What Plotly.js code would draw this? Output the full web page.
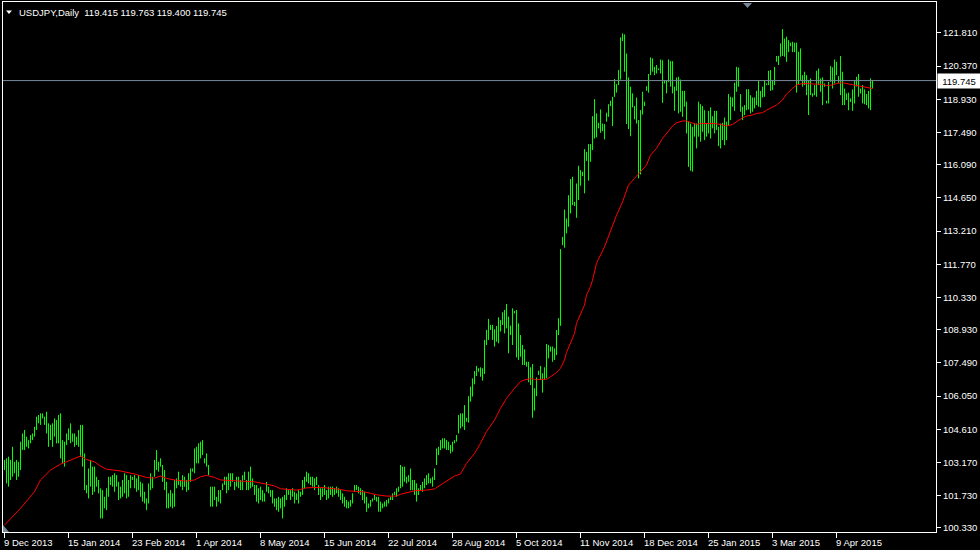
<!DOCTYPE html>
<html>
<head>
<meta charset="utf-8">
<script src="https://cdn.plot.ly/plotly-3.0.1.min.js"></script>
<style>
html,body{margin:0;padding:0;background:#000;}
#chart{width:980px;height:550px;}
</style>
</head>
<body>
<div id="chart"></div>
<script>
// ---- DATA (USDJPY, Daily) ----
const symbolTitle = "USDJPY,Daily";
const high = [
103.28,103.35,103.42,103.28,103.85,103.20,103.28,103.20,104.07,104.43,
104.58,104.29,104.14,104.36,104.43,104.72,105.16,105.23,105.30,105.30,
105.16,105.37,104.87,104.80,104.87,105.08,105.01,105.23,105.30,104.14,
104.07,104.43,104.65,104.87,104.43,104.43,104.29,104.58,104.80,104.80,
103.56,102.19,102.91,103.28,102.99,102.99,102.55,102.41,102.05,101.97,
101.68,102.05,102.55,102.55,102.62,102.70,102.62,102.33,102.12,102.41,
102.70,102.62,102.41,102.62,102.55,102.62,102.48,102.62,102.33,102.26,
101.90,101.61,102.26,102.70,102.55,103.28,103.71,103.20,103.35,103.06,
102.84,102.33,101.83,101.97,101.83,102.41,102.48,102.77,102.41,102.62,
102.55,102.41,102.70,102.91,102.91,103.78,103.85,104.00,104.07,104.14,
103.35,103.56,103.06,102.12,102.12,102.12,101.68,101.97,101.97,102.26,
102.55,102.55,102.70,102.70,102.70,102.33,102.55,102.55,102.41,102.62,
102.77,102.41,102.77,102.99,102.48,102.19,102.19,102.05,102.12,101.97,
101.83,102.33,102.12,101.97,101.97,101.61,101.61,101.68,101.61,101.68,
101.76,102.05,101.97,101.97,102.05,101.90,101.83,101.97,101.90,102.41,
102.55,102.77,102.70,102.55,102.55,102.48,102.55,102.19,102.05,102.05,
102.19,101.97,102.12,
102.12,102.12,102.05,102.12,102.05,101.97,101.83,101.68,101.54,101.47,
101.54,101.83,102.19,102.19,102.12,102.05,101.97,101.90,101.68,101.39,
101.54,101.61,101.76,101.68,101.68,101.47,101.39,101.47,101.54,101.61,
101.68,101.83,101.90,102.05,102.12,103.06,102.99,102.99,102.55,102.62,
102.91,102.41,102.41,102.26,102.05,102.19,102.33,102.48,102.62,102.70,
102.48,102.55,102.91,103.78,103.85,104.14,104.22,104.22,104.14,104.07,
103.93,104.07,104.14,104.36,105.23,105.30,105.30,105.66,105.11,106.05,
106.46,106.82,107.14,107.36,107.26,107.30,107.26,108.49,108.92,109.40,
109.14,109.14,108.95,109.09,109.47,109.35,109.69,109.79,110.05,109.50,
109.11,109.86,109.74,109.79,109.21,108.70,108.27,108.08,107.54,107.54,
107.30,107.44,106.39,106.86,107.15,107.36,107.04,107.30,108.31,108.27,
108.20,108.20,108.12,108.92,109.43,112.43,112.96,114.15,113.76,114.77,
115.47,115.57,114.48,115.28,116.05,115.86,115.79,116.77,116.65,116.99,
116.99,118.20,118.94,118.32,117.91,118.49,117.88,117.86,118.35,118.72,
118.87,119.04,119.81,119.59,120.20,121.62,121.79,121.75,120.92,119.88,
119.48,119.19,118.64,119.01,118.03,118.46,119.26,118.83,119.50,120.03,
120.75,120.71,120.34,120.42,120.27,120.66,120.63,119.77,119.77,120.66,
120.59,120.59,119.48,119.88,119.91,119.79,119.30,119.30,118.83,117.96,
117.88,117.74,117.88,117.88,118.83,118.72,118.64,118.46,117.88,118.43,
118.58,118.20,118.43,118.43,117.74,117.88,117.91,118.14,117.96,119.16,
119.04,119.01,119.65,120.34,120.31,119.16,118.61,118.68,119.37,119.37,
119.11,119.01,119.01,119.30,119.77,119.29,119.48,119.77,119.62,120.17,
120.20,119.77,120.34,120.81,120.82,121.36,121.98,121.57,121.65,121.50,
121.39,121.43,121.39,121.39,121.00,121.14,119.98,120.13,119.98,119.77,
119.84,119.19,119.55,120.17,120.27,119.84,119.88,119.62,118.87,119.69,
120.37,120.32,120.66,120.56,119.94,120.81,120.13,119.40,119.19,119.22,
118.97,119.36,119.77,119.91,120.03,119.40,119.55,119.36,119.16,119.30,
119.84,119.763];
const low = [
102.84,102.26,102.12,102.41,102.55,102.70,102.41,102.55,102.84,103.71,
103.71,103.85,103.78,104.00,104.14,104.29,104.58,104.87,104.80,105.08,
104.80,104.43,103.85,104.14,103.85,104.29,104.00,104.00,103.35,103.13,
102.99,103.93,104.14,104.00,104.07,103.85,103.93,103.85,103.42,102.99,
101.97,101.83,101.61,102.12,101.76,101.90,102.12,101.83,100.74,100.74,
101.18,101.10,101.68,102.19,102.12,101.90,102.12,101.54,101.61,101.68,
101.83,101.61,101.68,102.05,102.41,102.05,101.90,101.97,101.68,101.47,
101.39,101.10,101.39,101.97,102.05,102.55,102.84,102.77,102.99,102.33,
101.97,101.18,101.18,101.25,101.18,101.25,102.05,102.19,102.12,101.97,
102.12,101.90,101.97,102.33,102.77,102.70,103.13,103.13,103.35,103.49,
103.13,102.99,102.62,101.25,101.25,101.54,101.25,101.47,101.39,101.97,
102.19,101.83,101.97,102.12,102.33,101.97,102.12,102.05,101.97,101.97,
102.41,101.97,101.97,102.05,102.12,101.76,101.47,101.39,101.54,101.47,
101.47,101.90,101.83,101.68,101.39,101.25,101.10,101.03,101.18,100.74,
101.25,101.54,101.76,101.54,101.68,101.39,101.54,101.39,101.68,101.76,
102.05,102.33,102.26,102.19,102.12,101.97,102.19,101.76,101.54,101.68,
101.76,101.54,101.61,
101.76,101.68,101.76,101.83,101.68,101.54,101.39,101.25,101.18,101.18,
101.25,101.39,101.90,101.97,101.83,101.76,101.54,101.39,101.03,101.18,
101.25,101.47,101.54,101.47,101.03,101.03,101.18,101.25,101.25,101.39,
101.54,101.54,101.76,101.68,101.90,102.05,102.12,102.33,102.26,102.33,
101.97,101.97,101.76,101.47,101.76,101.97,101.90,102.05,102.19,102.26,
102.26,102.12,102.41,103.06,103.49,103.71,103.78,103.78,103.71,103.71,
103.56,103.64,104.00,104.07,104.43,104.65,104.72,104.58,104.94,104.90,
105.81,106.03,106.56,106.92,107.11,106.89,106.72,107.01,108.27,108.49,
108.92,108.49,108.20,108.41,108.34,108.85,109.14,108.77,108.99,107.91,
108.70,108.27,109.64,107.73,107.62,107.76,107.40,107.40,107.33,106.65,
106.53,105.11,105.42,106.05,106.97,106.75,106.20,106.75,106.82,107.69,
107.98,107.54,107.62,107.83,108.70,109.10,112.60,112.49,113.11,113.40,
113.98,114.34,114.30,113.79,114.56,115.18,115.60,114.85,116.26,115.40,
116.22,116.73,117.23,117.28,117.67,117.48,117.55,117.19,117.96,118.17,
118.64,117.77,119.04,119.22,119.55,119.79,121.46,120.13,117.86,117.64,
117.33,118.58,118.06,117.88,115.50,115.67,118.27,118.64,119.30,119.22,
119.98,120.13,119.98,120.05,120.20,120.05,118.78,119.62,119.19,119.69,
119.48,119.19,118.43,119.30,118.32,118.39,118.17,118.61,117.45,116.00,
115.83,115.79,117.31,116.80,117.31,117.09,117.52,117.16,117.31,117.45,
117.23,117.67,117.45,117.60,116.90,116.80,117.16,116.94,117.16,117.77,
118.03,118.61,118.43,119.26,119.48,118.39,118.03,118.25,118.46,118.49,
118.32,118.39,118.54,118.68,118.61,118.58,119.01,119.04,119.55,119.55,
119.30,119.33,119.55,120.56,120.42,120.78,120.81,120.78,120.56,120.98,
121.24,120.98,120.98,119.22,119.55,119.77,119.48,119.55,119.11,118.25,
119.11,119.04,119.11,119.04,119.55,119.26,118.68,119.48,118.75,118.75,
119.69,119.40,119.62,119.98,119.65,119.11,118.68,118.68,118.90,118.46,
118.82,118.43,118.75,119.48,119.04,119.19,118.75,118.72,118.68,118.54,
118.46,119.400];
const close = [
103.20,102.40,103.00,102.60,103.10,102.90,102.80,103.10,103.95,104.20,
104.00,104.10,104.05,104.30,104.35,104.60,105.00,105.10,105.20,105.15,
104.95,104.60,104.30,104.70,104.50,104.80,104.20,105.10,103.80,103.90,
104.00,104.30,104.50,104.30,104.20,104.00,104.20,104.50,103.60,103.20,
102.10,102.00,102.60,102.30,102.80,102.20,102.30,101.90,101.00,101.50,
101.30,101.90,102.40,102.30,102.50,102.10,102.30,101.80,101.90,102.30,
102.00,102.40,102.20,102.50,102.45,102.30,102.40,102.10,101.80,101.60,
101.50,101.40,102.10,102.50,102.40,103.10,103.00,103.10,103.10,102.50,
102.20,101.30,101.60,101.40,101.70,102.30,102.30,102.40,102.30,102.20,
102.40,102.20,102.60,102.80,102.85,103.60,103.40,103.80,103.90,103.60,
103.20,103.10,102.70,101.60,101.90,101.60,101.50,101.80,101.90,102.20,
102.30,102.40,102.50,102.60,102.40,102.10,102.40,102.20,102.30,102.50,
102.60,102.10,102.70,102.30,102.20,101.90,101.70,101.80,101.70,101.60,
101.80,102.00,101.90,101.80,101.50,101.40,101.30,101.50,101.30,101.60,
101.70,101.90,101.85,101.70,101.80,101.60,101.70,101.80,101.85,102.30,
102.40,102.50,102.40,102.30,102.40,102.30,102.20,101.90,101.80,101.90,
101.80,101.90,101.90,
101.90,102.00,101.90,102.00,101.80,101.60,101.50,101.40,101.30,101.40,
101.50,101.80,102.10,102.00,101.90,101.80,101.60,101.50,101.20,101.30,
101.50,101.55,101.60,101.50,101.20,101.30,101.30,101.40,101.50,101.60,
101.60,101.80,101.85,102.00,102.05,102.90,102.60,102.50,102.40,102.50,
102.10,102.30,101.90,102.00,102.00,102.10,102.30,102.40,102.50,102.40,
102.40,102.50,102.80,103.70,103.80,104.00,103.90,104.10,103.80,103.90,
103.80,104.00,104.10,104.30,105.10,104.90,105.20,105.00,105.05,105.90,
106.30,106.70,107.00,107.20,107.15,107.10,107.00,108.40,108.70,109.00,
109.00,108.70,108.80,109.00,109.30,109.20,109.50,109.60,109.70,108.80,
108.90,109.70,109.70,108.00,108.50,108.00,107.60,107.60,107.40,106.90,
107.10,106.10,106.20,106.80,107.05,107.00,106.90,107.20,108.00,108.10,
108.05,107.80,108.00,108.80,109.20,112.30,112.80,113.60,113.50,114.60,
114.90,114.40,114.40,115.10,115.70,115.70,115.70,116.60,116.40,116.60,
116.80,118.00,117.60,117.80,117.80,117.70,117.70,117.80,118.20,118.60,
118.70,118.90,119.40,119.50,120.00,121.40,121.60,120.60,118.50,118.80,
119.20,118.70,118.40,118.20,116.80,118.30,118.80,118.75,119.40,119.90,
120.50,120.30,120.20,120.30,120.25,120.50,119.40,119.70,119.60,120.40,
119.70,119.40,119.30,119.70,118.60,119.00,118.70,118.90,117.70,116.40,
117.40,117.50,117.60,117.70,118.40,117.90,118.30,117.60,117.70,118.20,
117.70,117.90,118.10,117.80,117.30,117.60,117.50,117.80,117.80,118.90,
118.80,118.70,119.50,119.60,119.50,118.60,118.40,118.60,119.20,118.80,
118.60,118.80,118.70,119.00,119.10,119.20,119.40,119.60,119.60,119.80,
119.50,119.70,120.30,120.70,120.70,121.20,121.10,121.40,121.30,121.30,
121.30,121.20,121.30,119.60,120.80,120.00,119.80,119.70,119.30,119.60,
119.20,119.10,119.40,120.00,119.70,119.70,119.50,119.55,118.80,119.60,
120.10,119.80,120.20,120.00,119.80,119.30,119.00,119.10,119.00,119.10,
118.90,119.20,119.60,119.60,119.20,119.30,118.90,119.10,118.80,118.70,
119.415,119.745];
const firstOpen = 103.00;

// Moving average (red line), sampled at bar indices
const maIdx = [0,8,15,18,23,28,31,38,41,45,48,51,58,65,71,75,78,81,85,91,95,98,101,105,108,115,121,125,131,135,138,143,146,148,151,158,163,168,171,176,180,183,186,191,196,198,201,205,211,215,218,221,225,228,231,235,238,241,245,248,251,255,258,260,261,263,265,266,268,271,273,276,278,280,281,283,285,286,288,290,291,293,294,296,300,303,306,309,311,312,315,318,321,323,326,329,331,334,336,339,341,344,346,348,351,355,358,361,364,366,369,371,374,376,379,381,384,386,389,391,394,396,399,401,404,406,409,411,414,416,419,421,424,426,429,431,434];
const maVal = [100.45,101.18,101.90,102.41,102.84,103.10,103.20,103.45,103.30,103.20,103.01,102.88,102.80,102.67,102.52,102.49,102.58,102.48,102.41,102.36,102.41,102.55,102.61,102.52,102.41,102.39,102.36,102.33,102.23,102.15,102.03,102.00,101.97,102.00,102.07,102.09,102.05,102.00,101.94,101.92,101.89,101.83,101.77,101.71,101.71,101.79,101.86,101.94,101.97,102.02,102.19,102.36,102.58,102.67,103.13,103.56,104.00,104.51,105.01,105.52,105.95,106.39,106.68,106.75,106.78,106.81,106.78,106.75,106.78,106.78,106.89,107.07,107.26,107.62,107.94,108.34,108.77,109.21,109.57,110.00,110.44,110.80,111.08,111.81,112.53,113.25,113.90,114.48,114.99,115.21,115.50,115.79,116.08,116.51,116.80,117.23,117.45,117.77,117.91,117.99,117.99,117.91,117.84,117.88,117.88,117.88,117.84,117.77,117.84,117.96,118.13,118.20,118.25,118.32,118.35,118.46,118.58,118.68,118.90,119.16,119.40,119.55,119.62,119.62,119.59,119.59,119.58,119.53,119.55,119.62,119.65,119.62,119.55,119.53,119.50,119.45,119.40];

// Axis labels
const xTickIdx = [0,32,64,96,128,160,192,224,256,288,320,352,384,416];
const xTickText = ["9 Dec 2013","15 Jan 2014","23 Feb 2014","1 Apr 2014","8 May 2014","15 Jun 2014","22 Jul 2014","28 Aug 2014","5 Oct 2014","11 Nov 2014","18 Dec 2014","25 Jan 2015","3 Mar 2015","9 Apr 2015"];
const yTickVals = [121.81,120.37,118.93,117.49,116.09,114.65,113.21,111.77,110.33,108.93,107.49,106.05,104.61,103.17,101.73,100.33];
const yTickText = ["121.810","120.370","118.930","117.490","116.090","114.650","113.210","111.770","110.330","108.930","107.490","106.050","104.610","103.170","101.730","100.330"];

// ---- build ----
const n = close.length;
const xs = [], open = [];
for (let i = 0; i < n; i++) {
  xs.push(i);
  // each daily bar opens where the previous one closed
  const o = i === 0 ? firstOpen : close[i - 1];
  open.push(Math.min(high[i], Math.max(low[i], o)));
}
const last = n - 1;
const header = symbolTitle + "&nbsp;&nbsp;" + open[last].toFixed(3) + " " + high[last].toFixed(3) + " " + low[last].toFixed(3) + " " + close[last].toFixed(3);

const FONT = "'Liberation Sans', Arial, sans-serif";
const FS = 9.5;
const W = 980, H = 550, ML = 3, MR = 44, MT = 2, MB = 18;
const PW = W - ML - MR, PH = H - MT - MB;
const px = x => (x - ML) / PW;
const py = y => (H - MB - y) / PH;
const path = pts => 'M ' + pts.map(p => px(p[0]).toFixed(5) + ',' + py(p[1]).toFixed(5)).join(' L ') + ' Z';

const traces = [
  {
    type: 'ohlc', x: xs, open: open, high: high, low: low, close: close,
    increasing: {line: {color: '#00ff00', width: 1}},
    decreasing: {line: {color: '#00ff00', width: 1}},
    tickwidth: 0, hoverinfo: 'skip', showlegend: false
  },
  {
    type: 'scatter', mode: 'lines', x: maIdx, y: maVal,
    line: {color: '#ff0000', width: 1}, hoverinfo: 'skip', showlegend: false
  }
];

const annotations = [
  {xref: 'paper', yref: 'paper', x: px(17), y: py(12.5), xanchor: 'left', yanchor: 'middle',
   text: header, showarrow: false, font: {family: FONT, size: FS, color: '#ffffff'}},
  {xref: 'paper', yref: 'y', x: 1, y: close[last], xanchor: 'left', yanchor: 'middle', xshift: 1,
   text: close[last].toFixed(3), showarrow: false, bgcolor: '#ffffff', borderpad: 0,
   width: 42, height: 14, font: {family: FONT, size: FS, color: '#000000'}}
];
xTickIdx.forEach((t, k) => annotations.push({
  xref: 'x', yref: 'paper', x: t, y: py(542), xanchor: 'left', yanchor: 'middle', xshift: -3,
  text: xTickText[k], showarrow: false, font: {family: FONT, size: FS, color: '#ffffff'}
}));

const layout = {
  width: W, height: H,
  margin: {l: ML, r: MR, t: MT, b: MB, pad: 0},
  paper_bgcolor: '#000000', plot_bgcolor: '#000000',
  showlegend: false, dragmode: false,
  font: {family: FONT, size: FS, color: '#ffffff'},
  xaxis: {
    range: [-0.75, 465.75], rangeslider: {visible: false}, fixedrange: true,
    showgrid: false, zeroline: false,
    showline: true, linecolor: '#ffffff', linewidth: 1, mirror: true,
    tickmode: 'array', tickvals: xTickIdx, showticklabels: false,
    ticks: 'outside', ticklen: 5, tickcolor: '#ffffff', tickwidth: 1
  },
  yaxis: {
    side: 'right', range: [100.152, 123.155], fixedrange: true,
    showgrid: false, zeroline: false,
    showline: true, linecolor: '#ffffff', linewidth: 1, mirror: true,
    tickmode: 'array', tickvals: yTickVals, ticktext: yTickText,
    ticks: 'outside', ticklen: 4, tickcolor: '#ffffff', tickwidth: 1,
    tickfont: {family: FONT, size: FS, color: '#ffffff'}
  },
  shapes: [
    {type: 'line', xref: 'paper', yref: 'y', x0: 0, x1: 1, y0: close[last], y1: close[last],
     line: {color: '#778899', width: 1}, layer: 'above'},
    {type: 'path', xref: 'paper', yref: 'paper', path: path([[6,10.5],[12,10.5],[9,14]]),
     fillcolor: '#ffffff', line: {width: 0}},
    {type: 'path', xref: 'paper', yref: 'paper', path: path([[743,3],[752,3],[747.5,8]]),
     fillcolor: '#778899', line: {width: 0}},
    {type: 'path', xref: 'paper', yref: 'paper', path: path([[3,525],[3,532],[9,532]]),
     fillcolor: '#778899', line: {width: 0}}
  ],
  annotations: annotations
};

Plotly.newPlot('chart', traces, layout, {staticPlot: true, displayModeBar: false});
</script>
</body>
</html>
